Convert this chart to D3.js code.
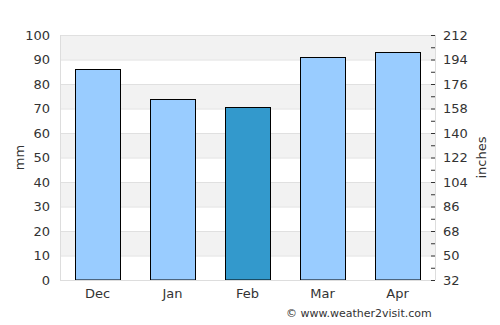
<!DOCTYPE html>
<html>
<head>
<meta charset="utf-8">
<script src="https://cdn.jsdelivr.net/npm/d3@7"></script>
<style>
body{margin:0;background:#fff;}
text{font-family:"DejaVu Sans",sans-serif;fill:#333;}
</style>
</head>
<body>
<div id="chart"></div>
<script>
// data
var months = ["Dec", "Jan", "Feb", "Mar", "Apr"];
var rainMM = [86, 74, 70.5, 91, 93];
var highlight = "Feb";
var leftTicks = [0, 10, 20, 30, 40, 50, 60, 70, 80, 90, 100];
var rightLabels = ["32", "50", "68", "86", "104", "122", "140", "158", "176", "194", "212"];

var W = 500, H = 325;
var m = {left: 60, right: 65, top: 35, bottom: 45};

var svg = d3.select("#chart").append("svg")
    .attr("width", W)
    .attr("height", H);

var x = d3.scaleBand().domain(months).range([m.left, W - m.right]).paddingInner(0.4).paddingOuter(0.2);
var y = d3.scaleLinear().domain([0, 100]).range([H - m.bottom, m.top]);

// alternating bands
var bands = leftTicks.slice(0, -1).filter(function(d){ return (d / 10) % 2 == 1; });
svg.append("g").selectAll("rect")
    .data(bands)
    .enter().append("rect")
    .attr("x", m.left)
    .attr("width", W - m.right - m.left)
    .attr("y", function(d){ return y(d + 10); })
    .attr("height", function(d){ return y(d) - y(d + 10); })
    .style("fill", "#f2f2f2");

// grid lines
svg.append("g").selectAll("line")
    .data(leftTicks)
    .enter().append("line")
    .attr("x1", m.left).attr("x2", W - m.right)
    .attr("y1", function(d){ return y(d) + 0.5; })
    .attr("y2", function(d){ return y(d) + 0.5; })
    .style("stroke", "#e0e0e0");

// bars
svg.append("g").selectAll("rect")
    .data(months)
    .enter().append("rect")
    .attr("x", function(d){ return Math.round(x(d)) + 0.5; })
    .attr("width", x.bandwidth())
    .attr("y", function(d, i){ return Math.round(y(rainMM[i])) + 0.5; })
    .attr("height", function(d, i){ return y(0) - Math.round(y(rainMM[i])) - 0.5; })
    .style("fill", function(d){ return d == highlight ? "#3399cc" : "#99ccff"; })
    .style("stroke", "#000")
    .style("stroke-width", 1);

// axis frame lines
svg.append("line")
    .attr("x1", m.left + 0.5).attr("x2", m.left + 0.5)
    .attr("y1", m.top).attr("y2", H - m.bottom)
    .style("stroke", "#ddd");
svg.append("line")
    .attr("x1", W - m.right + 0.5).attr("x2", W - m.right + 0.5)
    .attr("y1", m.top).attr("y2", H - m.bottom)
    .style("stroke", "#ddd");
svg.append("line")
    .attr("x1", m.left).attr("x2", W - m.right)
    .attr("y1", H - m.bottom + 0.5).attr("y2", H - m.bottom + 0.5)
    .style("stroke", "#ddd");

// left axis
var yAxis = d3.axisLeft(y).tickValues(leftTicks).tickSize(0).tickPadding(10);
var gl = svg.append("g").attr("transform", "translate(" + m.left + ",0)").call(yAxis);
gl.select(".domain").remove();
gl.selectAll("text").style("font-size", "13px").style("fill", "#333");

// right axis, labels on the same grid, minor ticks halfway
var yR = d3.scaleLinear().domain([0, 10]).range([H - m.bottom, m.top]);
var rAxis = d3.axisRight(yR).ticks(20).tickSize(0).tickPadding(8)
    .tickFormat(function(d){ return d % 1 == 0 ? rightLabels[d] : ""; });
var gr = svg.append("g").attr("transform", "translate(" + (W - m.right) + ",0)").call(rAxis);
gr.select(".domain").remove();
gr.selectAll("text").style("font-size", "13px").style("fill", "#333");
gr.selectAll(".tick line")
    .attr("x1", -4).attr("x2", 0)
    .style("stroke", "#333");

// bottom labels
var xAxis = d3.axisBottom(x).tickSize(0).tickPadding(9);
var gb = svg.append("g").attr("transform", "translate(0," + (H - m.bottom) + ")").call(xAxis);
gb.select(".domain").remove();
gb.selectAll("text").style("font-size", "13px").style("fill", "#333");

// axis titles
svg.append("text")
    .attr("transform", "translate(24," + ((m.top + H - m.bottom) / 2) + ") rotate(-90)")
    .attr("text-anchor", "middle")
    .style("font-size", "13px")
    .text("mm");
svg.append("text")
    .attr("transform", "translate(486," + ((m.top + H - m.bottom) / 2) + ") rotate(-90)")
    .attr("text-anchor", "middle")
    .style("font-size", "13px")
    .text("inches");

svg.append("text")
    .attr("x", 286).attr("y", 317)
    .style("font-size", "11px")
    .text("© www.weather2visit.com");
</script>
</body>
</html>
